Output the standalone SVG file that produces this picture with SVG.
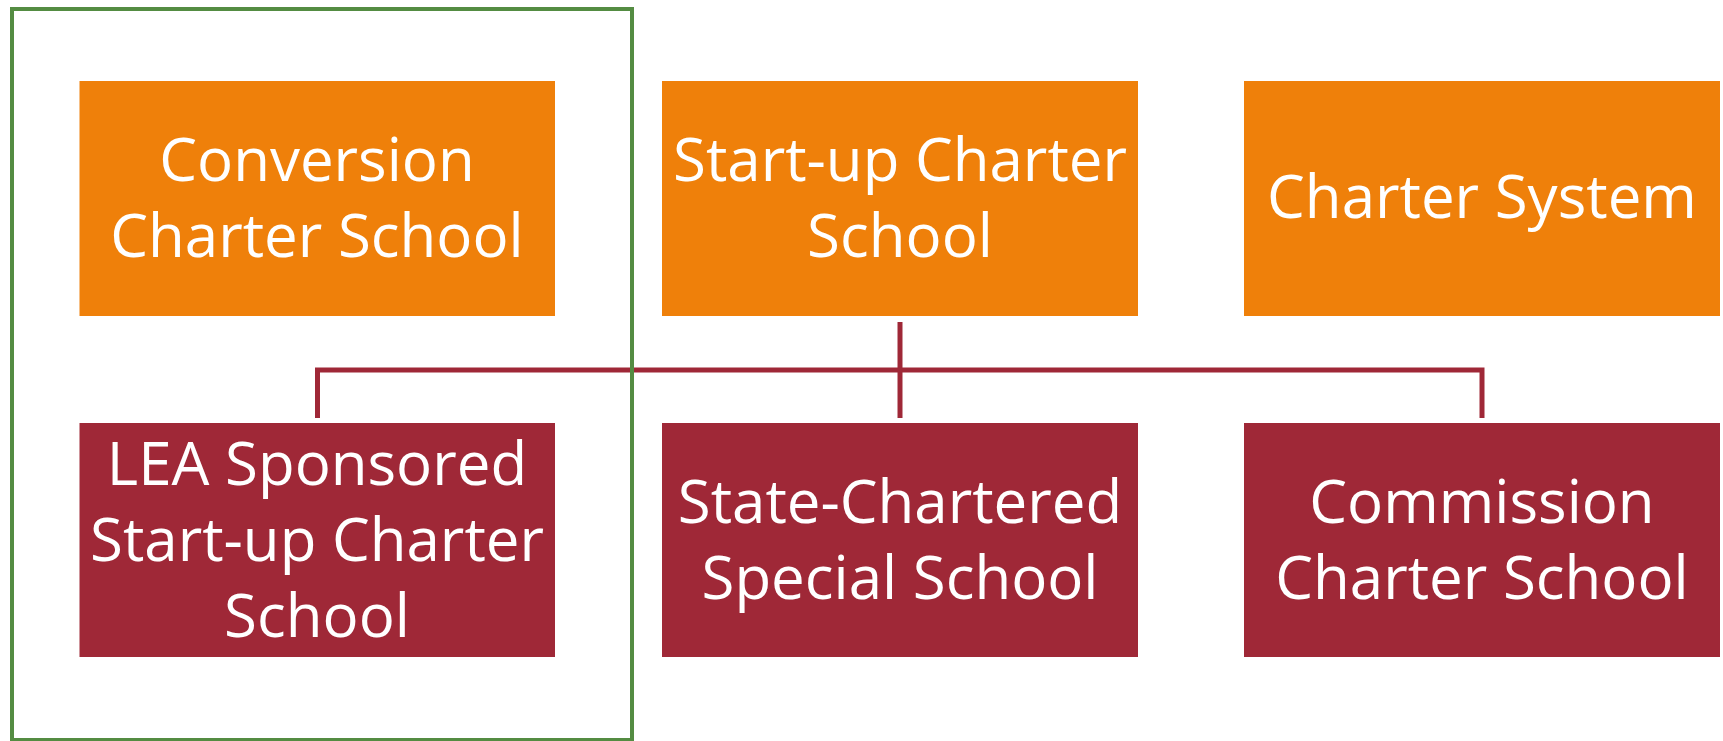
<svg xmlns="http://www.w3.org/2000/svg" width="1723" height="741" viewBox="0 0 1723 741">
<style>
.top{fill:#EF800A}
.bot{fill:#9F2837}
.lbl{font-family:"Open Sans","Liberation Sans",sans-serif;font-size:60px;fill:#FFFFFF;text-anchor:middle}
.conn{fill:none;stroke:#9F2837;stroke-width:5}
.frame{fill:none;stroke:#548C42;stroke-width:4}
</style>
<rect width="1723" height="741" fill="#FFFFFF"/>
<g id="connectors">
<path class="conn" d="M317.5,418 V370 H1482 V418"/>
<path class="conn" d="M900,322 V418"/>
</g>
<g id="n-conversion">
<rect class="top" x="79.5" y="81" width="475.5" height="235"/>
<text class="lbl" x="317" y="181">Conversion</text>
<text class="lbl" x="317" y="257">Charter School</text>
</g>
<g id="n-startup">
<rect class="top" x="662" y="81" width="476" height="235"/>
<text class="lbl" x="900" y="181">Start-up Charter</text>
<text class="lbl" x="900" y="257">School</text>
</g>
<g id="n-system">
<rect class="top" x="1244" y="81" width="476" height="235"/>
<text class="lbl" x="1482" y="218">Charter System</text>
</g>
<g id="n-lea">
<rect class="bot" x="79.5" y="423" width="475.5" height="234"/>
<text class="lbl" x="317" y="484.5">LEA Sponsored</text>
<text class="lbl" x="317" y="560.5">Start-up Charter</text>
<text class="lbl" x="317" y="636.5">School</text>
</g>
<g id="n-state">
<rect class="bot" x="662" y="423" width="476" height="234"/>
<text class="lbl" x="900" y="522.5">State-Chartered</text>
<text class="lbl" x="900" y="598.5">Special School</text>
</g>
<g id="n-commission">
<rect class="bot" x="1244" y="423" width="476" height="234"/>
<text class="lbl" x="1482" y="522.5">Commission</text>
<text class="lbl" x="1482" y="598.5">Charter School</text>
</g>
<g id="n-highlight">
<rect class="frame" x="12" y="9" width="620" height="731"/>
</g>
</svg>
